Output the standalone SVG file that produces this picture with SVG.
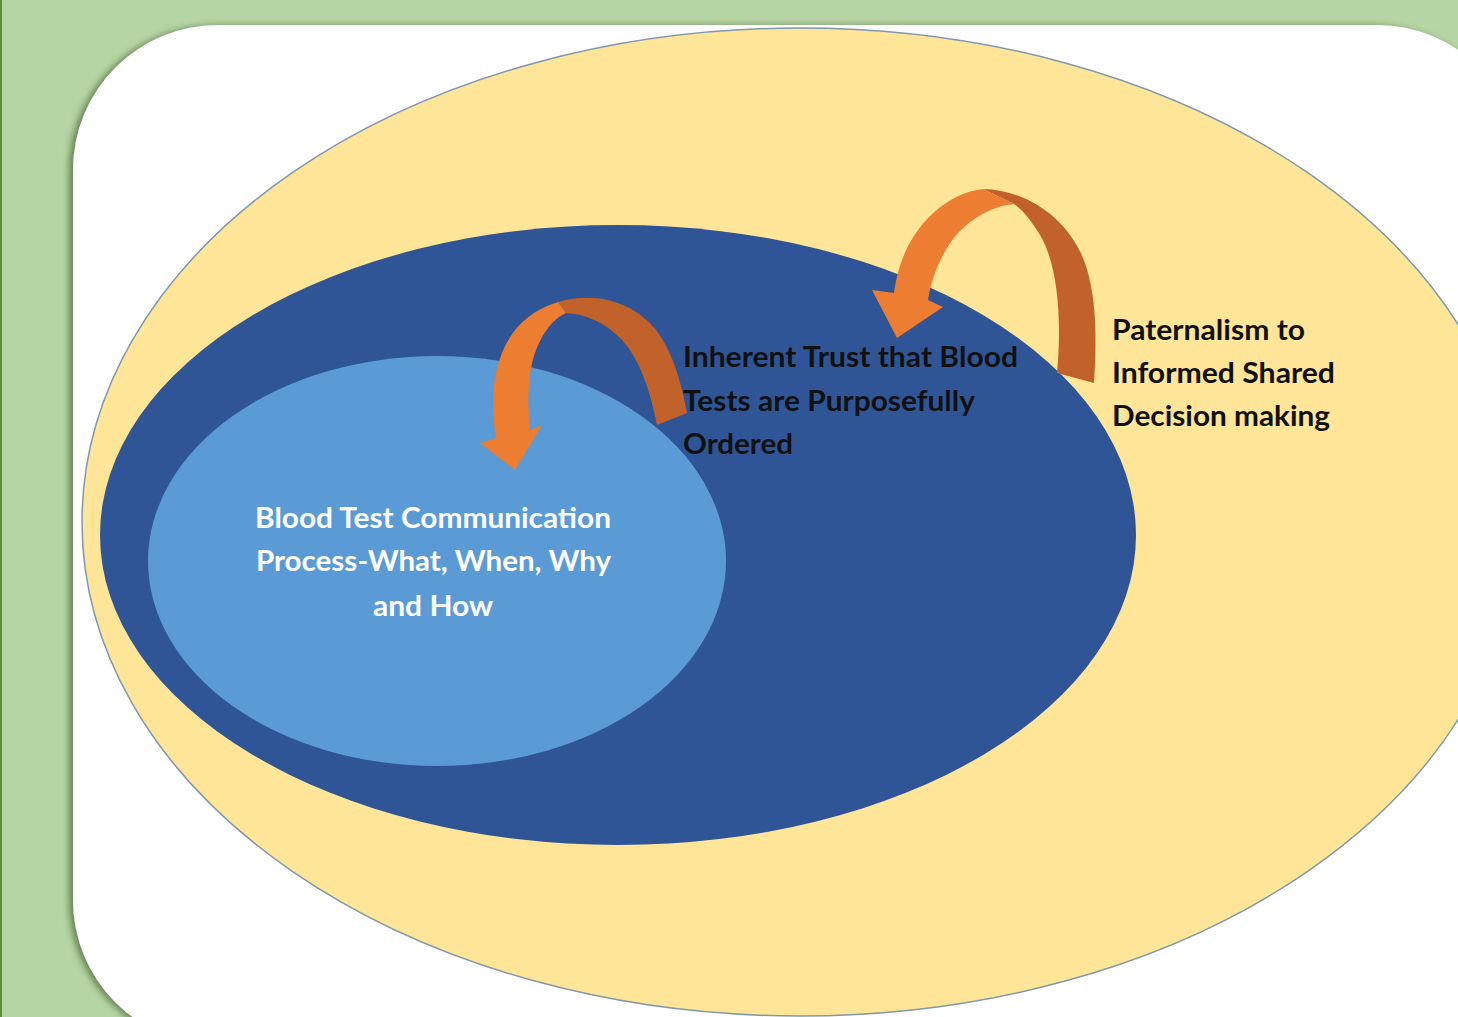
<svg xmlns="http://www.w3.org/2000/svg" width="1458" height="1017" viewBox="0 0 1458 1017">
  <defs>
    <filter id="panelShadow" x="-5%" y="-5%" width="110%" height="110%">
      <feDropShadow dx="-4" dy="1" stdDeviation="3.5" flood-color="#3f5f2f" flood-opacity="0.7"/>
    </filter>
  </defs>
  <style>
    .lbl { font-family: Lato, "Open Sans", "Liberation Sans", sans-serif; font-weight: 700; font-size: 29px; }
    .dark { fill: #111111; }
    .light { fill: #ffffff; }
    .front { fill: #ED7D31; }
    .back { fill: #C0622A; }
  </style>

  <!-- background -->
  <rect x="0" y="0" width="1458" height="1017" fill="#B6D5A4"/>
  <rect x="0" y="0" width="2" height="1017" fill="#5C8E3E"/>
  <rect x="73" y="25" width="1449" height="1020" rx="145" ry="145" fill="#ffffff" filter="url(#panelShadow)"/>

  <g id="outer">
    <ellipse cx="800" cy="522" rx="718" ry="494" fill="#FFE597" stroke="#7E98AE" stroke-width="1.5"/>
  </g>
  <g id="middle">
    <ellipse cx="618" cy="535" rx="518" ry="310" fill="#2F5597"/>
  </g>
  <g id="inner">
    <ellipse cx="437" cy="561" rx="289" ry="205" fill="#5B9BD5"/>
  </g>

  <g id="connectors">
    <!-- big arrow -->
    <path class="back" d="M 983,189 C 1030,190 1072,222 1086,266 C 1098,305 1096,345 1094,383 L 1057,373 C 1062,320 1058,265 1040,235 C 1032,222 1024,211 1014,204 Z"/>
    <path class="front" d="M 983,189 C 948,193 916,222 902,260 C 897,274 895,285 894,293 L 872,290 L 897,338 L 943,307 L 928,300 C 932,275 943,250 958,233 C 975,215 995,206 1014,204 Z"/>
    <!-- small arrow -->
    <path class="back" d="M 558,302 C 600,290 636,305 656,330 C 673,352 682,385 687,413 L 657,425 C 650,390 640,360 622,340 C 605,322 585,314 566,313 Z"/>
    <path class="front" d="M 558,302 C 518,314 499,345 494,385 C 492,405 494,425 496,438 L 480,443 L 515,470 L 542,425 L 530,430 C 527,400 528,370 536,350 C 543,332 553,319 566,313 Z"/>
  </g>

  <g id="label-outer">
    <text class="lbl dark" x="1112" y="340" textLength="193" lengthAdjust="spacingAndGlyphs">Paternalism to</text>
    <text class="lbl dark" x="1112" y="383" textLength="223" lengthAdjust="spacingAndGlyphs">Informed Shared</text>
    <text class="lbl dark" x="1112" y="426" textLength="218" lengthAdjust="spacingAndGlyphs">Decision making</text>
  </g>
  <g id="label-middle">
    <text class="lbl dark" x="683" y="367" textLength="335" lengthAdjust="spacingAndGlyphs">Inherent Trust that Blood</text>
    <text class="lbl dark" x="683" y="411" textLength="292" lengthAdjust="spacingAndGlyphs">Tests are Purposefully</text>
    <text class="lbl dark" x="683" y="454" textLength="110" lengthAdjust="spacingAndGlyphs">Ordered</text>
  </g>
  <g id="label-inner">
    <text class="lbl light" x="255" y="528" textLength="356" lengthAdjust="spacingAndGlyphs">Blood Test Communication</text>
    <text class="lbl light" x="256" y="571" textLength="355" lengthAdjust="spacingAndGlyphs">Process-What, When, Why</text>
    <text class="lbl light" x="373" y="616" textLength="120" lengthAdjust="spacingAndGlyphs">and How</text>
  </g>
</svg>
